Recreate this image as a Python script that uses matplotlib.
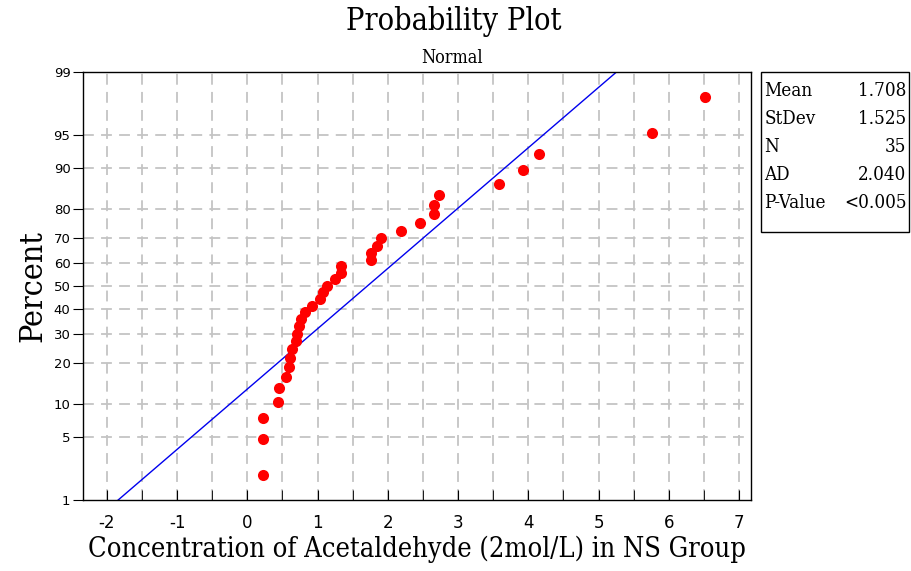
import matplotlib
matplotlib.use("Agg")
import matplotlib.pyplot as plt
from matplotlib.patches import Rectangle
from statistics import NormalDist

plt.rcParams["axes.unicode_minus"] = False

# Dados
valores = [0.225, 0.225, 0.225, 0.43, 0.453, 0.548, 0.59, 0.605, 0.634,
           0.69, 0.705, 0.73, 0.762, 0.815, 0.923, 1.033, 1.071, 1.128,
           1.242, 1.335, 1.34, 1.755, 1.755, 1.849, 1.897, 2.187, 2.457,
           2.661, 2.661, 2.728, 3.587, 3.92, 4.157, 5.766, 6.517]
percentis = [1.98, 4.80, 7.63, 10.45, 13.28, 16.10, 18.93, 21.75, 24.58,
             27.40, 30.23, 33.05, 35.88, 38.70, 41.53, 44.35, 47.18, 50.00,
             52.82, 55.65, 58.47, 61.30, 64.12, 66.95, 69.77, 72.60, 75.42,
             78.25, 81.07, 83.90, 86.72, 89.55, 92.37, 95.20, 98.02]
ticks_pct = [1, 5, 10, 20, 30, 40, 50, 60, 70, 80, 90, 95, 99]
ticks_x = [-2, -1, 0, 1, 2, 3, 4, 5, 6, 7]
MEDIA = 1.708
DESVIO = 1.525
estat_nomes = ["Mean", "StDev", "N", "AD", "P-Value"]
estat_valores = ["1.708", "1.525", "35", "2.040", "<0.005"]

nd = NormalDist()
def z(p):
    return nd.inv_cdf(p / 100.0)

SERIF = ["DejaVu Serif"]

fig = plt.figure(figsize=(9.12, 5.71), dpi=100)
ax = fig.add_axes([0.091, 0.1243, 0.7325, 0.7497])

# grade
for xv in [i * 0.5 for i in range(-4, 15)]:
    ax.axvline(xv, color="#c4c4c4", lw=1.3, ls=(0, (6, 4)), zorder=0)
for p in ticks_pct[1:-1]:
    ax.axhline(z(p), color="#c4c4c4", lw=1.3, ls=(0, (6, 4)), zorder=0)

# reta ajustada
z_lim = [z(1), z(99)]
ax.plot([MEDIA + DESVIO * zz for zz in z_lim], z_lim, color="#0000ee", lw=1.0, zorder=2)

ax.plot(valores, [z(p) for p in percentis], "o", color="#ff0000",
        markersize=8, markeredgewidth=0, zorder=3)

ax.set_xlim(-2.34, 7.17)
ax.set_ylim(z(1), z(99))
ax.set_xticks(ticks_x)
ax.set_xticks([i * 0.5 for i in range(-4, 15)], minor=True)
ax.set_yticks([z(p) for p in ticks_pct])
ax.set_yticklabels([str(p) for p in ticks_pct])
ax.tick_params(axis="x", direction="in", length=7, labelsize=12, pad=10)
ax.tick_params(axis="x", which="minor", direction="in", length=7)
ax.tick_params(axis="y", direction="out", length=7, labelsize=9.5, pad=2)
for s in ax.spines.values():
    s.set_linewidth(1.0)

ax.set_xlabel("Concentration of Acetaldehyde (2mol/L) in NS Group",
              fontsize=19.5, family=SERIF, stretch="condensed", labelpad=3)
ax.set_ylabel("Percent", fontsize=23, family=SERIF, stretch="condensed", labelpad=4)

fig.text(0.498, 0.962, "Probability Plot", ha="center", va="center",
         fontsize=22, family=SERIF, stretch="condensed")
fig.text(0.496, 0.898, "Normal", ha="center", va="center",
         fontsize=13, family=SERIF, stretch="condensed")

# caixa de estatísticas
fig.patches.append(Rectangle((0.834, 0.594), 0.163, 0.28, transform=fig.transFigure,
                             fill=False, edgecolor="black", lw=1.0))
for i, (nome, val) in enumerate(zip(estat_nomes, estat_valores)):
    yy = 1 - (91 + i * 28) / 571
    fig.text(0.838, yy, nome, ha="left", va="center", fontsize=13.5,
             family=SERIF, stretch="condensed")
    fig.text(0.994, yy, val, ha="right", va="center", fontsize=13.5,
             family=SERIF, stretch="condensed")

fig.savefig("out.png", dpi=100)
